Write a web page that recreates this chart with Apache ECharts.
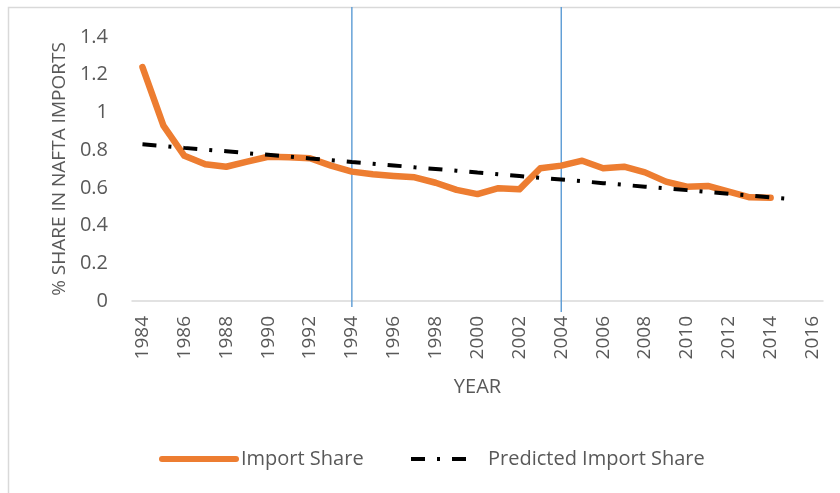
<!DOCTYPE html>
<html>
<head>
<meta charset="utf-8">
<title>Import Share</title>
<script src="https://cdn.jsdelivr.net/npm/echarts@6/dist/echarts.min.js"></script>
<style>
  html, body { margin: 0; padding: 0; background: #fff; }
  #main { width: 840px; height: 493px; }
</style>
</head>
<body>
<div id="main"></div>
<script>
(function(){

    // years on the x axis
    var years = ['1984','1985','1986','1987','1988','1989','1990','1991','1992','1993',
        '1994','1995','1996','1997','1998','1999','2000','2001','2002','2003',
        '2004','2005','2006','2007','2008','2009','2010','2011','2012','2013',
        '2014','2015','2016'];

    // import share, 1984-2014
    var importShare = [1.24, 0.93, 0.77, 0.725, 0.712, 0.739, 0.765, 0.762, 0.757, 0.718,
        0.686, 0.672, 0.663, 0.656, 0.627, 0.589, 0.567, 0.598, 0.592, 0.704,
        0.718, 0.744, 0.704, 0.712, 0.682, 0.633, 0.606, 0.610, 0.580, 0.550,
        0.548];

    // predicted import share (trend), 1984-2015
    var predicted = [0.831, 0.822, 0.812, 0.803, 0.794, 0.784, 0.775, 0.766, 0.756, 0.747,
        0.737, 0.728, 0.719, 0.709, 0.700, 0.691, 0.681, 0.672, 0.663, 0.653,
        0.644, 0.635, 0.625, 0.616, 0.606, 0.597, 0.588, 0.578, 0.569, 0.560,
        0.550, 0.541];

    // vertical marker lines: [year, top, bottom]
    var markerLines = [['1994', 1.559, -0.032], ['2004', 1.559, -0.058]];

    var yTicks = { min: 0, max: 1.4, interval: 0.2 };

    var textColor = '#595959';
    var font = '"Open Sans", "Liberation Sans", sans-serif';

    var myChart = echarts.init(document.getElementById('main'));

    var option = {
        backgroundColor: '#fff',
        animation: false,
        grid: { left: 132, right: 17, top: 37, bottom: 192 },
        graphic: [{
            type: 'polyline',
            shape: { points: [[8.5, 493], [8.5, 7.5], [840, 7.5]] },
            style: { stroke: '#d9d9d9', lineWidth: 1.5, fill: null },
            silent: true
        }],
        legend: [{
            data: ['Import Share'],
            left: 159,
            top: 449,
            padding: 0,
            itemWidth: 74,
            itemHeight: 14,
            itemStyle: { opacity: 0 },
            lineStyle: { width: 6, cap: 'round' },
            textStyle: { color: textColor, fontSize: 20, fontFamily: font }
        }, {
            data: ['Predicted Import Share'],
            left: 409,
            top: 449,
            padding: 0,
            itemWidth: 62,
            itemHeight: 14,
            itemStyle: { opacity: 0 },
            lineStyle: { width: 4, type: [14, 12, 3, 12] },
            textStyle: { color: textColor, fontSize: 20, fontFamily: font, padding: [0, 0, 0, 10] }
        }],
        xAxis: {
            type: 'category',
            data: years,
            boundaryGap: true,
            name: 'YEAR',
            nameLocation: 'middle',
            nameGap: 76,
            nameTextStyle: { color: textColor, fontSize: 20, fontFamily: font },
            axisLine: { lineStyle: { color: '#d9d9d9', width: 1.5 } },
            axisTick: { show: false },
            axisLabel: {
                interval: 1,
                rotate: 90,
                margin: 15,
                color: textColor,
                fontSize: 19,
                fontFamily: font
            }
        },
        yAxis: {
            type: 'value',
            min: yTicks.min,
            max: yTicks.max,
            interval: yTicks.interval,
            name: '% SHARE IN NAFTA IMPORTS',
            nameLocation: 'middle',
            nameGap: 62,
            nameTextStyle: { color: textColor, fontSize: 19, fontFamily: font },
            axisLine: { show: false },
            axisTick: { show: false },
            splitLine: { show: false },
            axisLabel: {
                margin: 24,
                color: textColor,
                fontSize: 20,
                fontFamily: font
            }
        },
        series: [{
            name: 'Import Share',
            type: 'line',
            data: importShare,
            symbol: 'none',
            z: 3,
            itemStyle: { color: '#ED7D31' },
            lineStyle: { color: '#ED7D31', width: 6.5, cap: 'round', join: 'round' }
        }, {
            name: 'Predicted Import Share',
            type: 'line',
            data: predicted,
            symbol: 'none',
            z: 4,
            itemStyle: { color: '#000' },
            lineStyle: { color: '#000', width: 4, type: [14, 12, 3, 12], cap: 'butt' }
        }, {
            // blue vertical markers for 1994 and 2004
            type: 'custom',
            clip: false,
            z: 2,
            data: markerLines,
            renderItem: function (params, api) {
                var top = api.coord([api.value(0), api.value(1)]);
                var bottom = api.coord([api.value(0), api.value(2)]);
                return {
                    type: 'line',
                    shape: { x1: top[0], y1: top[1], x2: bottom[0], y2: bottom[1] },
                    style: { stroke: '#5B9BD5', lineWidth: 1.4 }
                };
            }
        }]
    };

    myChart.setOption(option);

})();
</script>
</body>
</html>
